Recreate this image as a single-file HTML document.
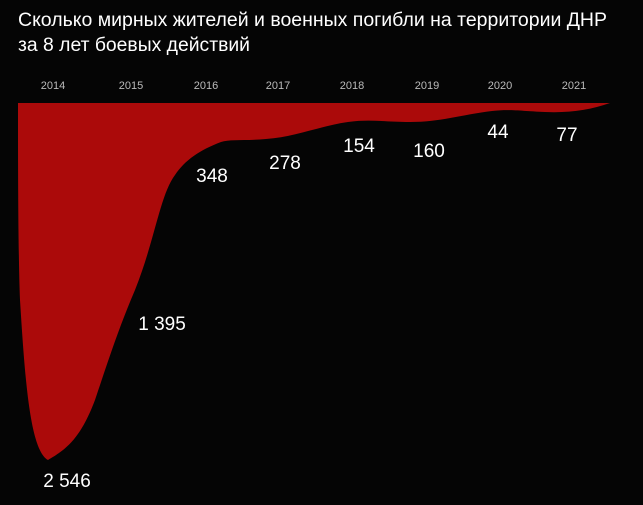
<!DOCTYPE html>
<html><head><meta charset="utf-8"><style>
body{margin:0;background:#050505;width:643px;height:500px;overflow:hidden;font-family:"Liberation Sans",sans-serif}
</style></head><body>
<svg width="643" height="500" xmlns="http://www.w3.org/2000/svg">
<text x="18" y="26" fill="#fff" font-size="19" textLength="589" lengthAdjust="spacingAndGlyphs">Сколько мирных жителей и военных погибли на территории ДНР</text>
<text x="18" y="51" fill="#fff" font-size="19" textLength="232" lengthAdjust="spacingAndGlyphs">за 8 лет боевых действий</text>
<g fill="#bbb" font-size="11" text-anchor="middle">
<text x="53" y="89">2014</text><text x="131" y="89">2015</text><text x="206" y="89">2016</text><text x="278" y="89">2017</text><text x="352" y="89">2018</text><text x="427" y="89">2019</text><text x="500" y="89">2020</text><text x="574" y="89">2021</text>
</g>
<path fill="#ab0a0a" d="M18,103 L610,103 C590,110 570,113 545,112 C520,111 510,109 492,111 C460,115 440,122 410,122 C385,122 370,119 348,122 C320,126 295,137 266,139 C245,141 230,139 221,142 C200,150 185,160 175,175 C160,195 155,240 135,290 C120,325 110,355 95,400 C80,440 65,450 48,460 C30,450 25,380 20,300 C18,250 18,150 18,103 Z"/>
<g fill="#fff" font-size="19" text-anchor="middle">
<text x="212" y="182">348</text><text x="285" y="169">278</text><text x="359" y="152">154</text><text x="429" y="157">160</text><text x="498" y="138">44</text><text x="567" y="141">77</text><text x="162" y="330">1 395</text><text x="67" y="487">2 546</text>
</g>
</svg>
</body></html>
